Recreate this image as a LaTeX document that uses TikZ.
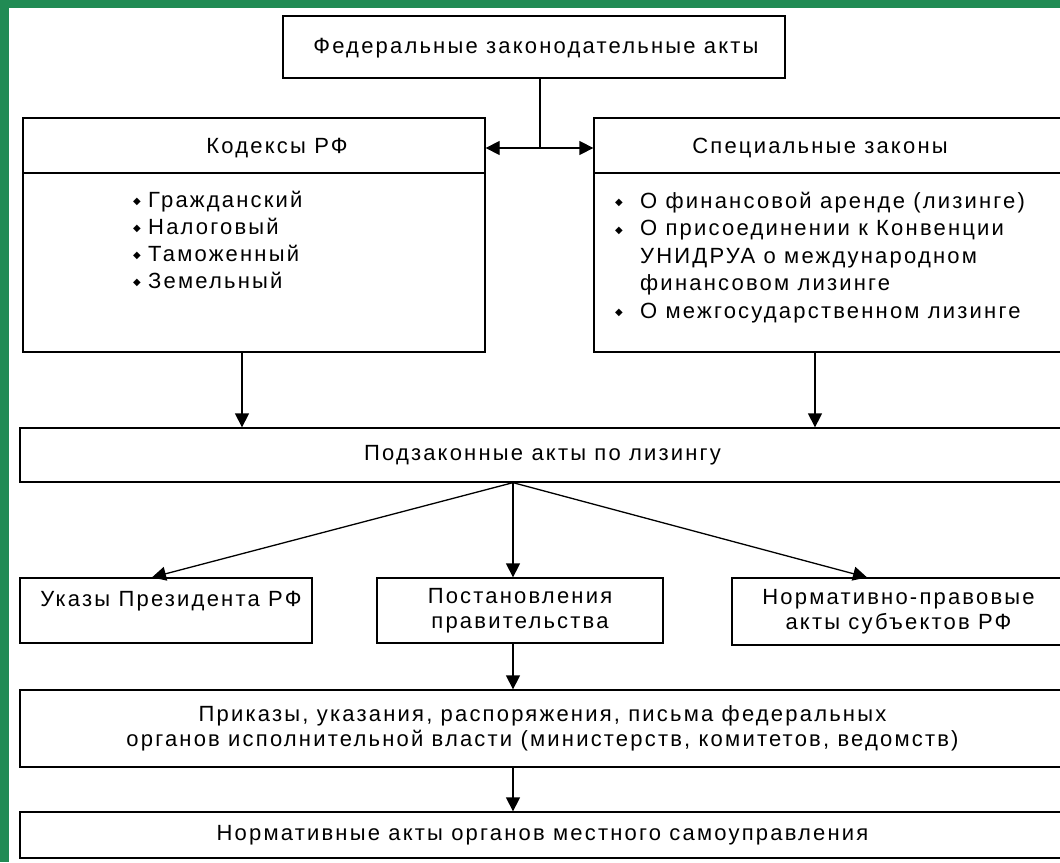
\documentclass[tikz,border=0pt]{standalone}
\usepackage{fontspec}
\setmainfont{Liberation Sans}[LetterSpace=10]
\newfontfamily\symfont{DejaVu Sans}
\usetikzlibrary{arrows.meta}
\definecolor{frame}{RGB}{33,139,84}
\newcommand\bul[1]{\makebox[#1][l]{\raisebox{2.5pt}{\symfont\fontsize{10}{10}\selectfont ◆}}}
\begin{document}
\begin{tikzpicture}[x=1pt,y=-1pt,
  every node/.style={font=\fontsize{22}{25}\selectfont},
  box/.style={draw, line width=1.3pt, rectangle, inner sep=2pt, align=center},
  txt/.style={inner sep=0pt},
  itm/.style={inner sep=0pt, anchor=base west},
  ln/.style={line width=1.3pt},
  arr/.style={line width=1.3pt, -{Triangle[length=14pt,width=14pt]}}]
\useasboundingbox (0,0) rectangle (1060,862);
\clip (0,0) rectangle (1060,862);
\fill[white] (0,0) rectangle (1060,862);
\fill[frame] (0,0) rectangle (1060,8);
\fill[frame] (0,0) rectangle (9,862);

\node[box, minimum width=502, minimum height=62] (fed) at (534,47) {};
\node[txt] (fedt) at (536,48) {Федеральные законодательные акты};
\node[box, minimum width=462, minimum height=234] (kod) at (254,235) {};
\node[box, minimum width=471, minimum height=234] (spec) at (829.5,235) {};
\node[txt] (kodt) at (277,148) {Кодексы РФ};
\node[txt] (spect) at (820,148) {Специальные законы};
\coordinate (dv) at (0,173);
\draw[ln] (kod.west |- dv) -- (kod.east |- dv);
\draw[ln] (spec.west |- dv) -- (spec.east |- dv);

\node[itm] (k1) at (133,207) {\bul{15pt}Гражданский};
\node[itm] (k2) at (133,234) {\bul{15pt}Налоговый};
\node[itm] (k3) at (133,261) {\bul{15pt}Таможенный};
\node[itm] (k4) at (133,288) {\bul{15pt}Земельный};

\node[itm] (s1) at (615,208) {\bul{25pt}О финансовой аренде (лизинге)};
\node[itm] (s2) at (615,235.5) {\bul{25pt}О присоединении к Конвенции};
\node[itm] (s3) at (640,263) {УНИДРУА о международном};
\node[itm] (s4) at (640,290.5) {финансовом лизинге};
\node[itm] (s5) at (615,318) {\bul{25pt}О межгосударственном лизинге};

\node[box, minimum width=1045, minimum height=54] (pod) at (542.5,455) {Подзаконные акты по лизингу};
\node[box, minimum width=292, minimum height=65] (ukaz) at (166,610.5) {};
\node[txt] (ukazt) at (171,601) {Указы Президента РФ};
\node[box, minimum width=286, minimum height=65] (post) at (520,610.5) {Постановления\\правительства};
\node[box, minimum width=333, minimum height=67] (norm) at (898.5,611.5) {Нормативно-правовые\\акты субъектов РФ};
\node[box, minimum width=1045, minimum height=77] (prik) at (542.5,728.5) {Приказы, указания, распоряжения, письма федеральных\\органов исполнительной власти (министерств, комитетов, ведомств)};
\node[box, minimum width=1045, minimum height=46] (mest) at (542.5,835) {Нормативные акты органов местного самоуправления};

\coordinate (j) at (540,148);
\draw[ln] (fed.south -| j) -- (j);
\draw[arr] (j) -- (j -| kod.east);
\draw[arr] (j) -- (j -| spec.west);
\coordinate (ka) at (242,0);
\coordinate (sa) at (815,0);
\draw[arr] (kod.south -| ka) -- (pod.north -| ka);
\draw[arr] (spec.south -| sa) -- (pod.north -| sa);
\coordinate (f) at (513,0);
\coordinate (ua) at (152,0);
\coordinate (na) at (867,0);
\draw[arr] (pod.south -| f) -- (ukaz.north -| ua);
\draw[arr] (pod.south -| f) -- (post.north -| f);
\draw[arr] (pod.south -| f) -- (norm.north -| na);
\draw[arr] (post.south -| f) -- (prik.north -| f);
\draw[arr] (prik.south -| f) -- (mest.north -| f);
\end{tikzpicture}
\end{document}
